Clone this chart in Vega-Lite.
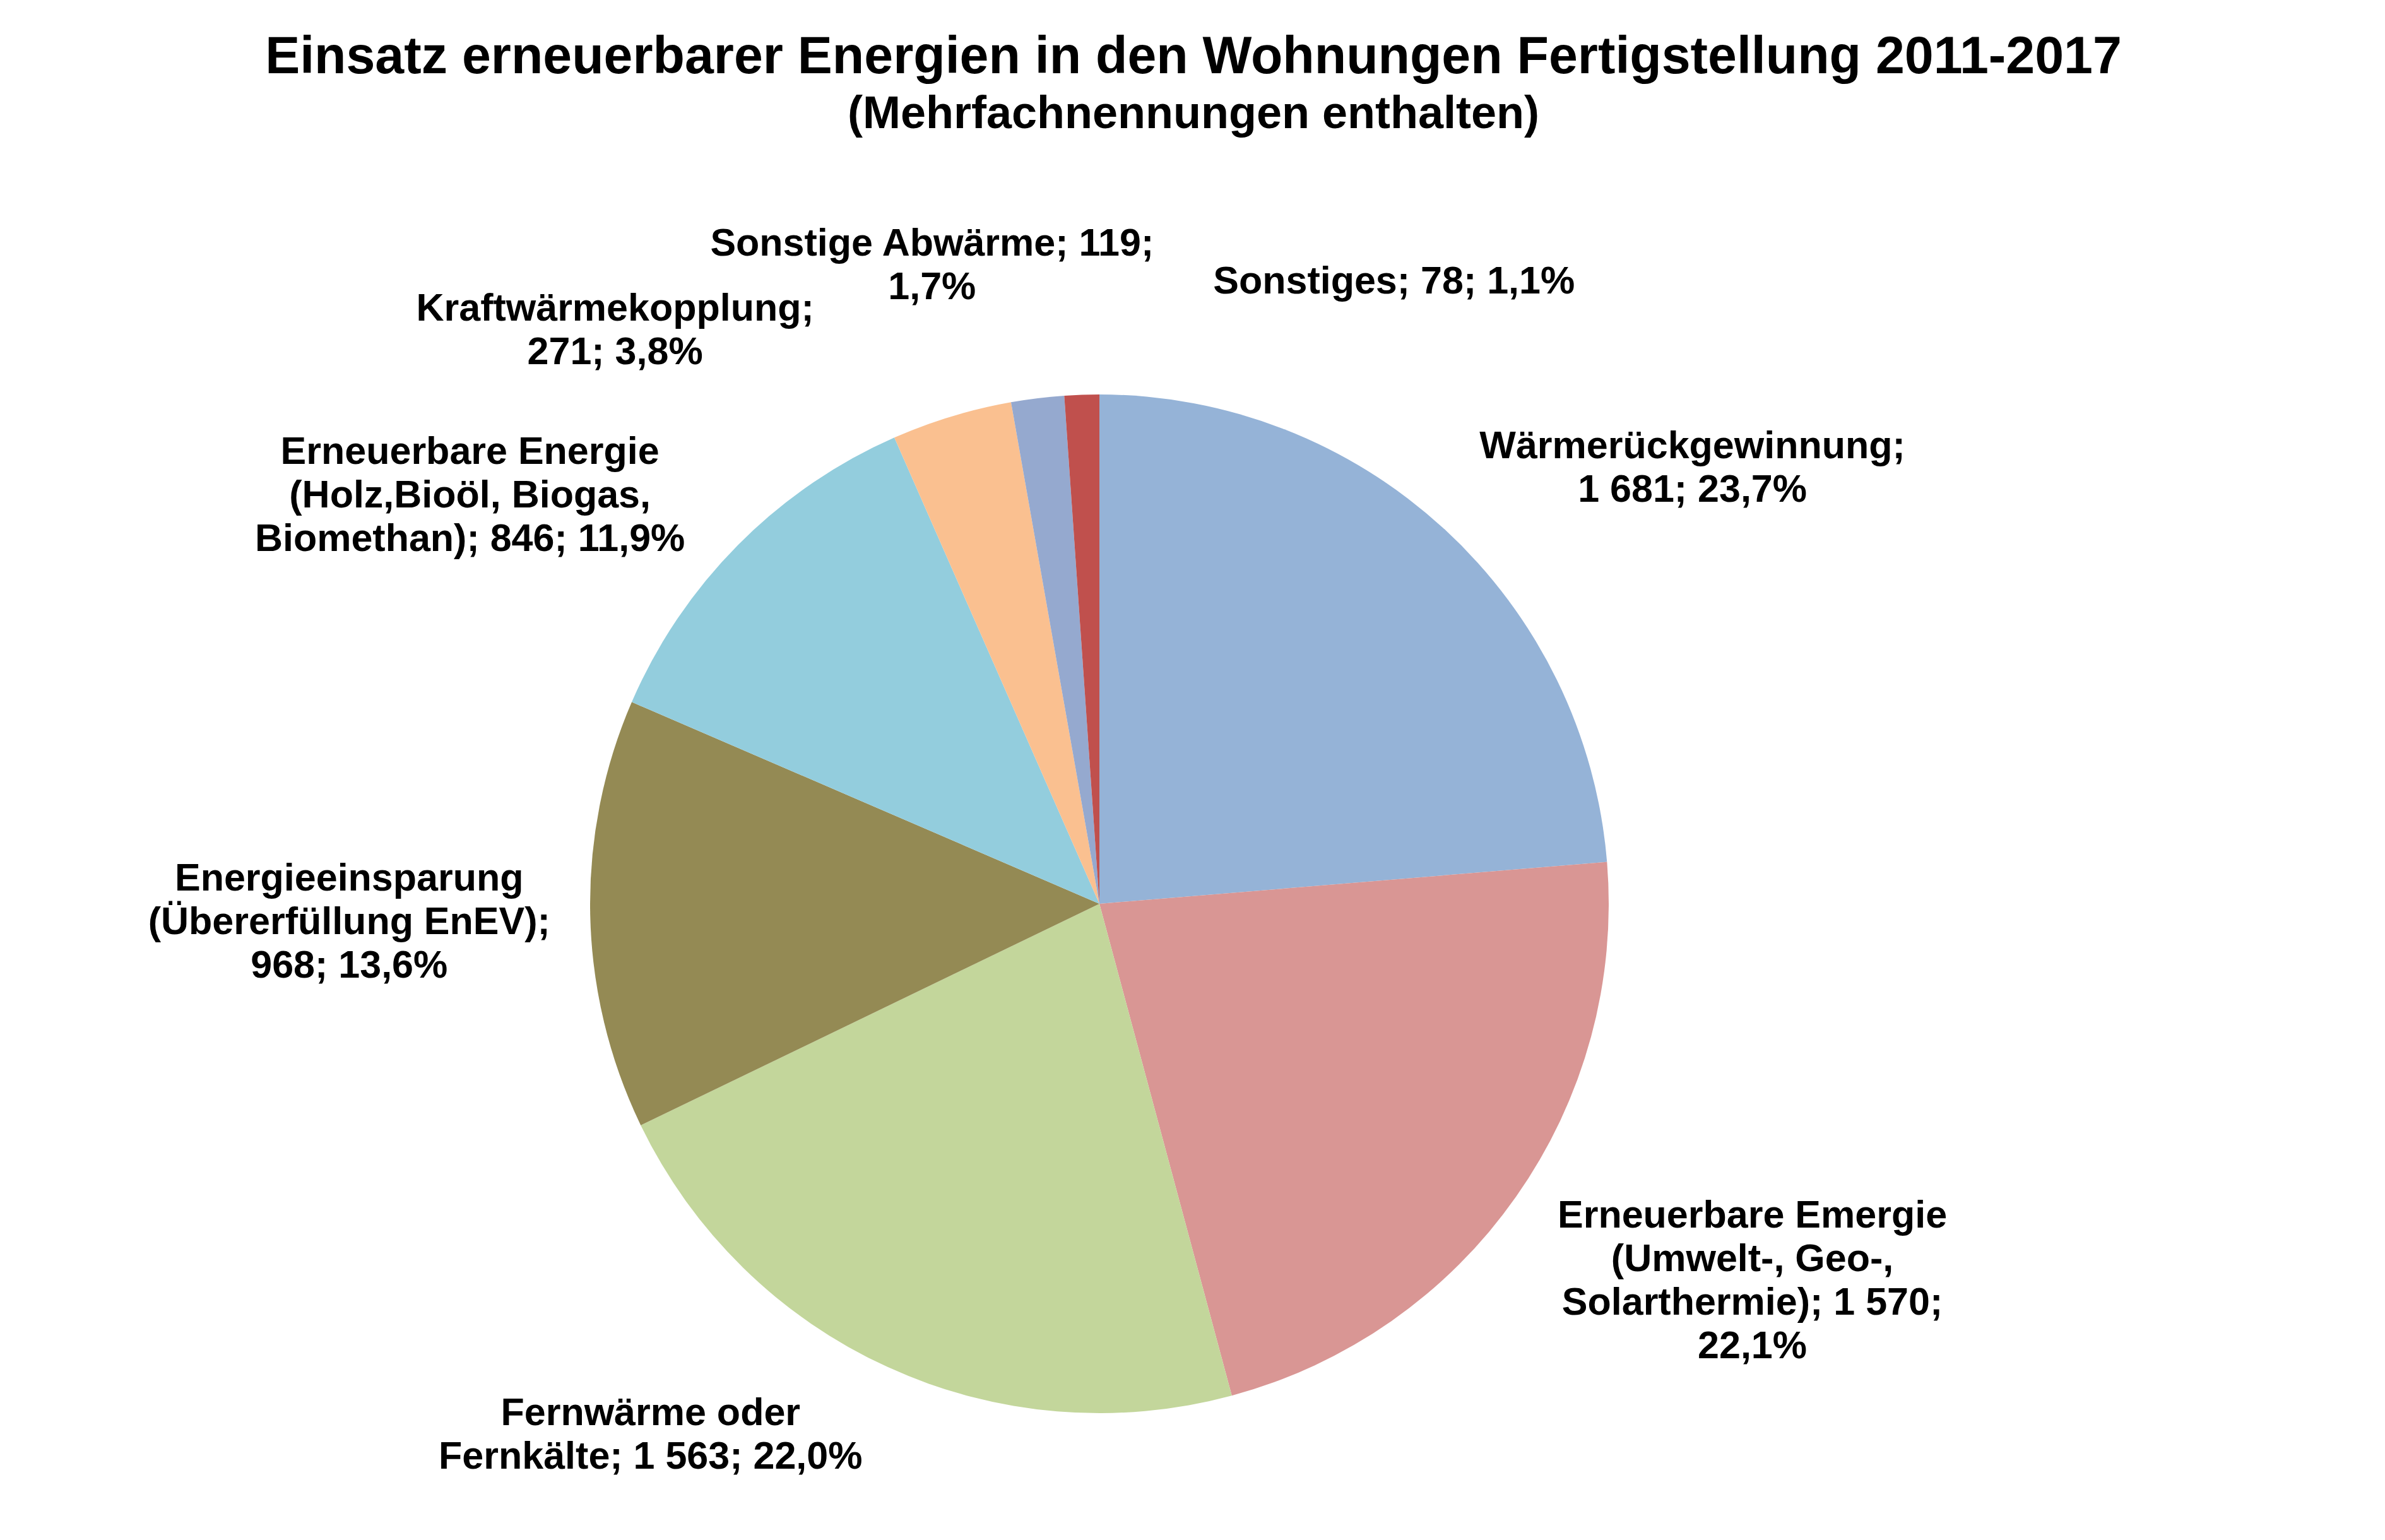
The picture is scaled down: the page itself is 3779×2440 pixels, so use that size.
{
  "$schema": "https://vega.github.io/schema/vega-lite/v6.json",
  "width": 3484,
  "height": 1614,
  "autosize": {"type": "none"},
  "padding": {"left": 0, "top": 625, "right": 295, "bottom": 201},
  "background": "white",
  "title": {
    "text": "Einsatz erneuerbarer Energien in den Wohnungen Fertigstellung 2011-2017",
    "subtitle": "(Mehrfachnennungen enthalten)",
    "font": "Liberation Sans",
    "fontSize": 82.5,
    "fontWeight": "bold",
    "color": "black",
    "subtitleFont": "Liberation Sans",
    "subtitleFontSize": 72,
    "subtitleFontWeight": "bold",
    "subtitleColor": "black",
    "anchor": "middle",
    "frame": "group",
    "dx": 149,
    "offset": -70,
    "subtitlePadding": 12
  },
  "config": {
    "view": {"stroke": null},
    "text": {"font": "Liberation Sans", "fontWeight": "bold", "fontSize": 61, "lineHeight": 69, "color": "black", "align": "center", "baseline": "middle"}
  },
  "data": {
    "values": [
      {"nr": 1, "kategorie": "Wärmerückgewinnung", "anzahl": 1681, "label": ["Wärmerückgewinnung;", "1 681; 23,7%"]},
      {"nr": 2, "kategorie": "Erneuerbare Emergie (Umwelt-, Geo-, Solarthermie)", "anzahl": 1570, "label": ["Erneuerbare Emergie", "(Umwelt-, Geo-,", "Solarthermie); 1 570;", "22,1%"]},
      {"nr": 3, "kategorie": "Fernwärme oder Fernkälte", "anzahl": 1563, "label": ["Fernwärme oder", "Fernkälte; 1 563; 22,0%"]},
      {"nr": 4, "kategorie": "Energieeinsparung (Übererfüllung EnEV)", "anzahl": 968, "label": ["Energieeinsparung", "(Übererfüllung EnEV);", "968; 13,6%"]},
      {"nr": 5, "kategorie": "Erneuerbare Energie (Holz,Bioöl, Biogas, Biomethan)", "anzahl": 846, "label": ["Erneuerbare Energie", "(Holz,Bioöl, Biogas,", "Biomethan); 846; 11,9%"]},
      {"nr": 6, "kategorie": "Kraftwärmekopplung", "anzahl": 271, "label": ["Kraftwärmekopplung;", "271; 3,8%"]},
      {"nr": 7, "kategorie": "Sonstige Abwärme", "anzahl": 119, "label": ["Sonstige Abwärme; 119;", "1,7%"]},
      {"nr": 8, "kategorie": "Sonstiges", "anzahl": 78, "label": ["Sonstiges; 78; 1,1%"]}
    ]
  },
  "encoding": {
    "theta": {"field": "anzahl", "type": "quantitative", "stack": true},
    "order": {"field": "nr", "type": "quantitative"},
    "color": {
      "field": "kategorie",
      "type": "nominal",
      "scale": {
        "domain": [
          "Wärmerückgewinnung",
          "Erneuerbare Emergie (Umwelt-, Geo-, Solarthermie)",
          "Fernwärme oder Fernkälte",
          "Energieeinsparung (Übererfüllung EnEV)",
          "Erneuerbare Energie (Holz,Bioöl, Biogas, Biomethan)",
          "Kraftwärmekopplung",
          "Sonstige Abwärme",
          "Sonstiges"
        ],
        "range": ["#95B3D7", "#D99694", "#C3D69B", "#948A54", "#93CDDD", "#FAC090", "#95A9CF", "#C0504D"]
      },
      "legend": null
    }
  },
  "layer": [
    {"mark": {"type": "arc", "outerRadius": 807}},
    {
      "mark": {"type": "text", "radius": 1080, "dx": 208, "dy": 70},
      "encoding": {"text": {"condition": {"test": "datum.nr == 1", "field": "label"}, "value": ""}, "color": {"value": "black"}}
    },
    {
      "mark": {"type": "text", "radius": 1080, "dx": 151, "dy": -126},
      "encoding": {"text": {"condition": {"test": "datum.nr == 2", "field": "label"}, "value": ""}, "color": {"value": "black"}}
    },
    {
      "mark": {"type": "text", "radius": 1080, "dx": -262, "dy": -174},
      "encoding": {"text": {"condition": {"test": "datum.nr == 3", "field": "label"}, "value": ""}, "color": {"value": "black"}}
    },
    {
      "mark": {"type": "text", "radius": 1080, "dx": -109, "dy": -62},
      "encoding": {"text": {"condition": {"test": "datum.nr == 4", "field": "label"}, "value": ""}, "color": {"value": "black"}}
    },
    {
      "mark": {"type": "text", "radius": 1080, "dx": -231, "dy": 46},
      "encoding": {"text": {"condition": {"test": "datum.nr == 5", "field": "label"}, "value": ""}, "color": {"value": "black"}}
    },
    {
      "mark": {"type": "text", "radius": 1080, "dx": -454, "dy": 92},
      "encoding": {"text": {"condition": {"test": "datum.nr == 6", "field": "label"}, "value": ""}, "color": {"value": "black"}}
    },
    {
      "mark": {"type": "text", "radius": 1080, "dx": -134, "dy": 27},
      "encoding": {"text": {"condition": {"test": "datum.nr == 7", "field": "label"}, "value": ""}, "color": {"value": "black"}}
    },
    {
      "mark": {"type": "text", "radius": 1080, "dx": 504, "dy": 94},
      "encoding": {"text": {"condition": {"test": "datum.nr == 8", "field": "label"}, "value": ""}, "color": {"value": "black"}}
    }
  ]
}
